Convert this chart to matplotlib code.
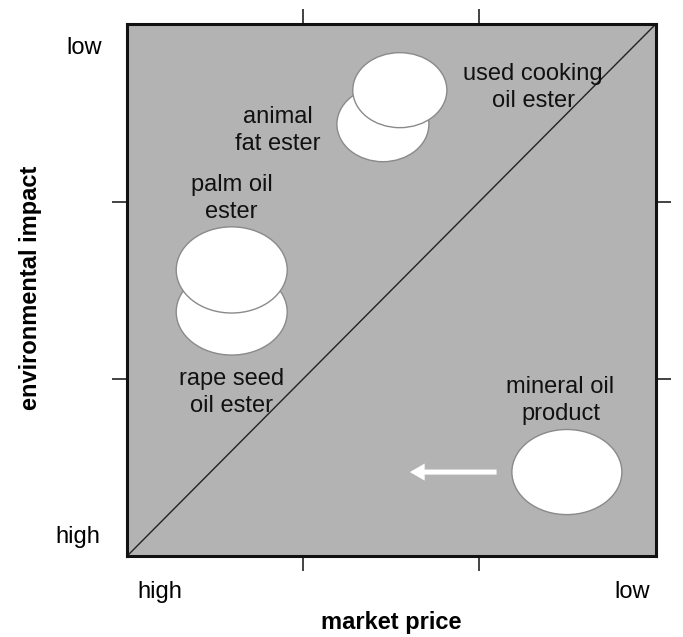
import matplotlib
matplotlib.use("Agg")
import matplotlib.pyplot as plt
from matplotlib.patches import Ellipse, FancyArrow

plt.rcParams['font.family'] = ['Liberation Sans', 'DejaVu Sans']

# Products drawn as ellipses (market price axis: 0=high .. 1=low; impact axis: 0=high .. 1=low)
products = ["rape seed oil ester", "palm oil ester", "animal fat ester",
            "used cooking oil ester", "mineral oil product"]
price_pos = [0.198, 0.198, 0.484, 0.516, 0.832]
impact_pos = [0.459, 0.538, 0.812, 0.876, 0.158]
ell_w = [0.21, 0.21, 0.174, 0.178, 0.208]
ell_h = [0.162, 0.162, 0.141, 0.141, 0.160]

labels = ["rape seed\noil ester", "palm oil\nester", "animal\nfat ester",
          "used cooking\noil ester", "mineral oil\nproduct"]
label_x = [0.197, 0.198, 0.286, 0.768, 0.82]
label_y = [0.308, 0.672, 0.801, 0.881, 0.292]

arrow_start = 0.699
arrow_end = 0.535
arrow_y = 0.158

fig = plt.figure(figsize=(6.83, 6.37), dpi=100)
ax = fig.add_axes([0.186, 0.127, 0.774, 0.835])
ax.set_facecolor('#b3b3b3')
ax.set_xlim(0, 1)
ax.set_ylim(0, 1)

ax.plot([0, 1], [0, 1], color='#222222', lw=1.0, zorder=1)

for x, y, w, h in zip(price_pos, impact_pos, ell_w, ell_h):
    ax.add_patch(Ellipse((x, y), w, h, facecolor='white', edgecolor='#8a8a8a',
                         lw=1.0, zorder=2))

for t, x, y in zip(labels, label_x, label_y):
    ax.text(x, y, t, ha='center', va='center', fontsize=17, color='#111111',
            linespacing=1.3, zorder=3)

ax.add_patch(FancyArrow(arrow_start, arrow_y, arrow_end - arrow_start, 0,
                        width=0.0095, head_width=0.032, head_length=0.028,
                        length_includes_head=True, color='white', lw=0, zorder=3))

ax.set_xticks([1/3, 2/3])
ax.set_yticks([1/3, 2/3])
ax.set_xticklabels([])
ax.set_yticklabels([])
ax.tick_params(direction='out', length=11, width=1.2, color='#222222',
               top=True, right=True, bottom=True, left=True)
for s in ax.spines.values():
    s.set_linewidth(2.2)
    s.set_color('#111111')

ax.text(-0.081, 0.955, "low", transform=ax.transAxes, ha='center', va='center', fontsize=17)
ax.text(-0.093, 0.036, "high", transform=ax.transAxes, ha='center', va='center', fontsize=17)
ax.text(0.062, -0.068, "high", transform=ax.transAxes, ha='center', va='center', fontsize=17)
ax.text(0.955, -0.068, "low", transform=ax.transAxes, ha='center', va='center', fontsize=17)

ax.text(0.5, -0.125, "market price", transform=ax.transAxes, ha='center', va='center',
        fontsize=17, fontweight='bold')
ax.text(-0.183, 0.505, "environmental impact", transform=ax.transAxes, ha='center',
        va='center', rotation=90, fontsize=17, fontweight='bold')

fig.savefig("out.png", dpi=100)
